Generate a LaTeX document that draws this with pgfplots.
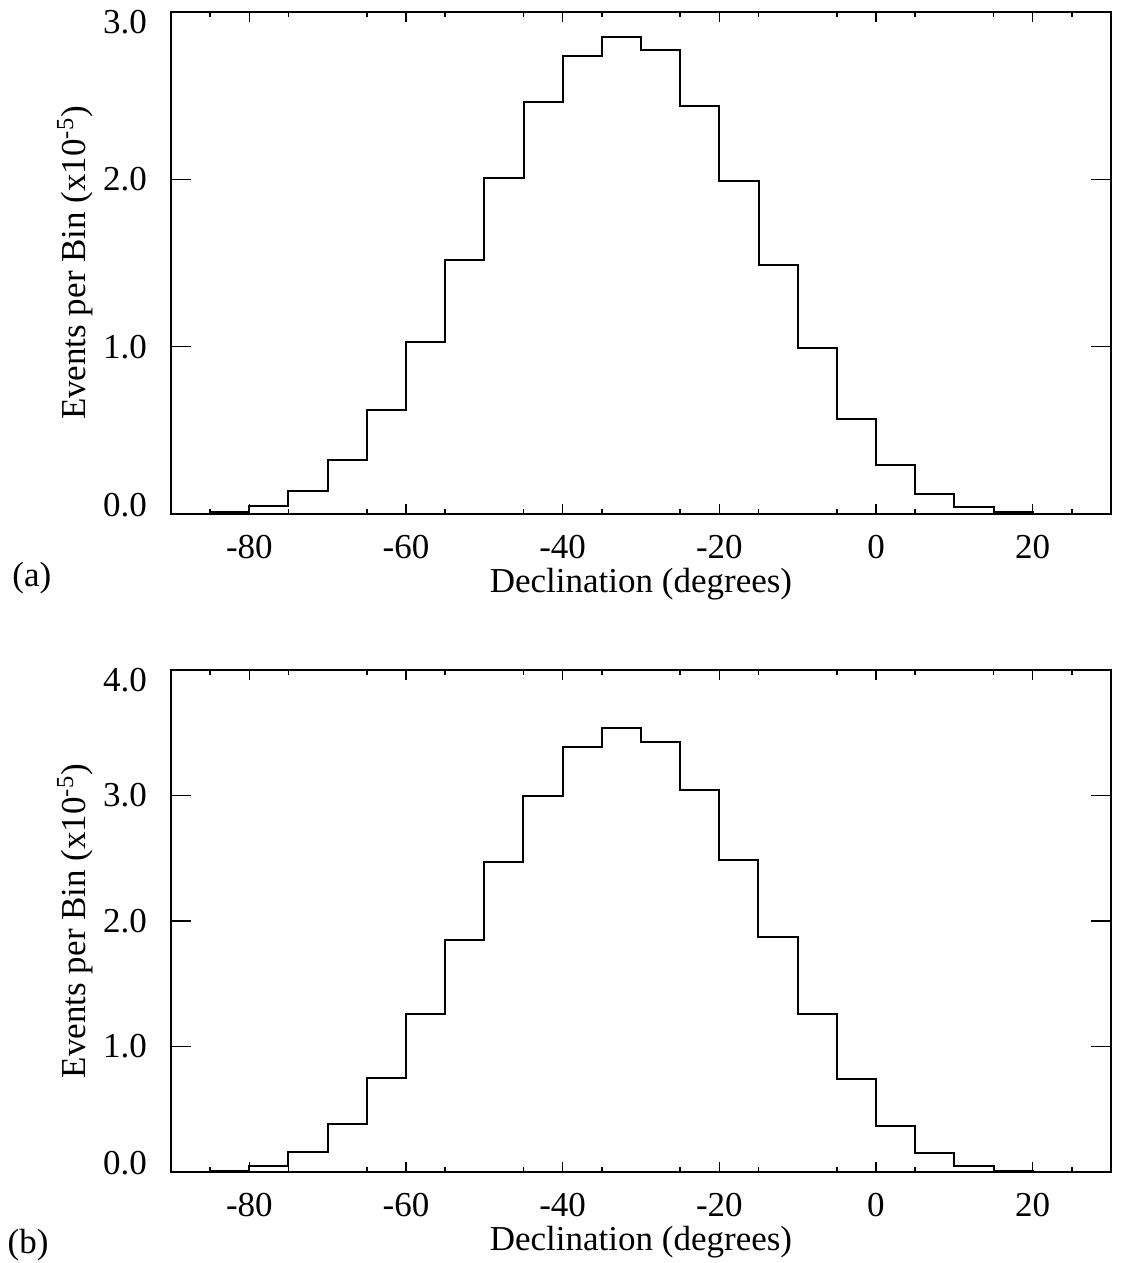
\documentclass[border=0pt]{standalone}
\usepackage{fontspec}
\setmainfont{Liberation Serif}
\usepackage{pgfplots}
\usepackage{pgfplotstable}
\pgfplotsset{compat=1.18}

\pgfplotstableread{
x y
-85 0.01
-80 0.05
-75 0.14
-70 0.32
-65 0.62
-60 1.03
-55 1.52
-50 2.01
-45 2.46
-40 2.74
-35 2.85
-30 2.77
-25 2.44
-20 1.99
-15 1.49
-10 0.99
-5 0.57
0 0.29
5 0.12
10 0.04
15 0.01
20 0
}\dataA

\pgfplotstableread{
x y
-85 0.01
-80 0.05
-75 0.16
-70 0.38
-65 0.75
-60 1.26
-55 1.85
-50 2.47
-45 3.00
-40 3.39
-35 3.54
-30 3.43
-25 3.04
-20 2.49
-15 1.87
-10 1.26
-5 0.74
0 0.37
5 0.15
10 0.05
15 0.01
20 0
}\dataB

\newcommand{\lowlab}[1]{\raisebox{4.5pt}[\height][\depth]{#1}}
\newcommand{\toplab}[1]{\raisebox{-5pt}[\height][\depth]{#1}}

\begin{document}
\fontsize{17.5}{20}\selectfont
\begin{tikzpicture}
\pgfplotsset{
  common/.style={
    scale only axis, width=470pt, height=251pt,
    xmin=-90, xmax=30, ymin=0,
    clip=false,
    axis line style={line width=0.8pt},
    tick align=inside,
    tick style={line width=0.8pt, black},
    xtick={-80,-60,...,20},
    minor xtick={-85,-75,...,25},
    major tick length=5pt, minor tick length=2.5pt,
    ytick=\empty,
    /pgf/number format/assume math mode=true,
    ticklabel style={font=\fontsize{17.5}{20}\selectfont},
    xticklabel style={inner sep=1pt, yshift=-9.5pt},
    extra y tick style={major tick length=10pt, yticklabel style={xshift=-6pt}},
    xlabel={Declination (degrees)},
    xlabel style={at={(axis description cs:0.5,0)}, anchor=center, inner sep=1pt, yshift=-35pt, font=\fontsize{17.5}{20}\selectfont},
    ylabel={Events per Bin (x10\textsuperscript{-5})},
    ylabel style={at={(axis description cs:-0.102,0.5)}, anchor=center, rotate=0, font=\fontsize{17.5}{20}\selectfont},
  }
}
\path[use as bounding box] (-85.5pt,-374.5pt) rectangle (476pt,257pt);

\begin{axis}[common, at={(0pt,0pt)}, anchor=south west, ymax=3,
  extra y ticks={0,1,2,3}, extra y tick labels={\lowlab{0.0},1.0,2.0,\toplab{3.0}}]
\addplot[const plot, black, line width=1pt] table {\dataA};
\node at (axis description cs:-0.148,-0.1275) {(a)};
\end{axis}

\begin{axis}[common, at={(0pt,-329pt)}, anchor=south west, ymax=4,
  extra y ticks={0,1,2,3,4}, extra y tick labels={\lowlab{0.0},1.0,2.0,3.0,\toplab{4.0}}]
\addplot[const plot, black, line width=1pt] table {\dataB};
\node at (axis description cs:-0.152,-0.145) {(b)};
\end{axis}
\end{tikzpicture}
\end{document}
